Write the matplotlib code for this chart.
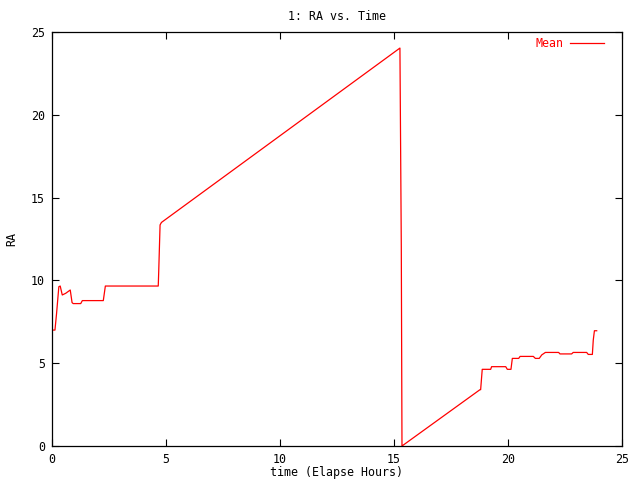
import matplotlib
matplotlib.use("Agg")
import matplotlib.pyplot as plt

title = "1: RA vs. Time"
xlabel = "time (Elapse Hours)"
ylabel = "RA"
series_name = "Mean"

time_h = [0.00, 0.13, 0.20, 0.30, 0.36, 0.45, 0.60, 0.80, 0.88, 0.93, 1.26, 1.33,
          2.25, 2.34, 4.66, 4.68, 4.74, 4.80, 15.26, 15.32, 15.35, 18.77, 18.80,
          18.87, 19.24, 19.28, 19.90, 19.97, 20.13, 20.19, 20.47, 20.53, 21.11,
          21.20, 21.37, 21.48, 21.64, 22.22, 22.28, 22.79, 22.86, 23.45, 23.52,
          23.70, 23.74, 23.79, 23.89]
ra = [7.00, 7.00, 8.00, 9.62, 9.66, 9.12, 9.22, 9.42, 8.66, 8.60, 8.60, 8.78,
      8.78, 9.66, 9.66, 10.50, 13.35, 13.50, 24.03, 12.03, 0.00, 3.40, 3.40,
      4.63, 4.63, 4.79, 4.79, 4.63, 4.63, 5.29, 5.29, 5.41, 5.41,
      5.29, 5.29, 5.50, 5.65, 5.65, 5.56, 5.56, 5.65, 5.65, 5.53,
      5.53, 6.40, 6.96, 6.96]

xticks = [0, 5, 10, 15, 20, 25]
yticks = [0, 5, 10, 15, 20, 25]

fs = 8.4
plt.rcParams['font.family'] = ['DejaVu Sans Mono']
fig = plt.figure(figsize=(6.4, 4.8), dpi=100)
ax = fig.add_axes([52/640, 34/480, 570/640, 414/480])
ax.plot(time_h, ra, color='red', lw=0.9, label=series_name)
ax.set_xlim(0, 25)
ax.set_ylim(0, 25)
ax.set_xticks(xticks)
ax.set_yticks(yticks)
ax.tick_params(direction='in', length=5, width=0.8, top=True, right=True,
               labelsize=fs, pad=5)
for s in ax.spines.values():
    s.set_linewidth(0.9)
ax.set_title(title, fontsize=fs, pad=9)
ax.set_xlabel(xlabel, fontsize=fs, labelpad=0)
ax.set_ylabel(ylabel, fontsize=fs, labelpad=9)
ax.legend(loc='upper right', frameon=False, markerfirst=False, labelcolor='red',
          fontsize=fs, handlelength=2.9, handletextpad=0.6, borderaxespad=0.3,
          bbox_to_anchor=(1 - 10/570, 1 + 3/414))
fig.savefig("out.png", dpi=100)
